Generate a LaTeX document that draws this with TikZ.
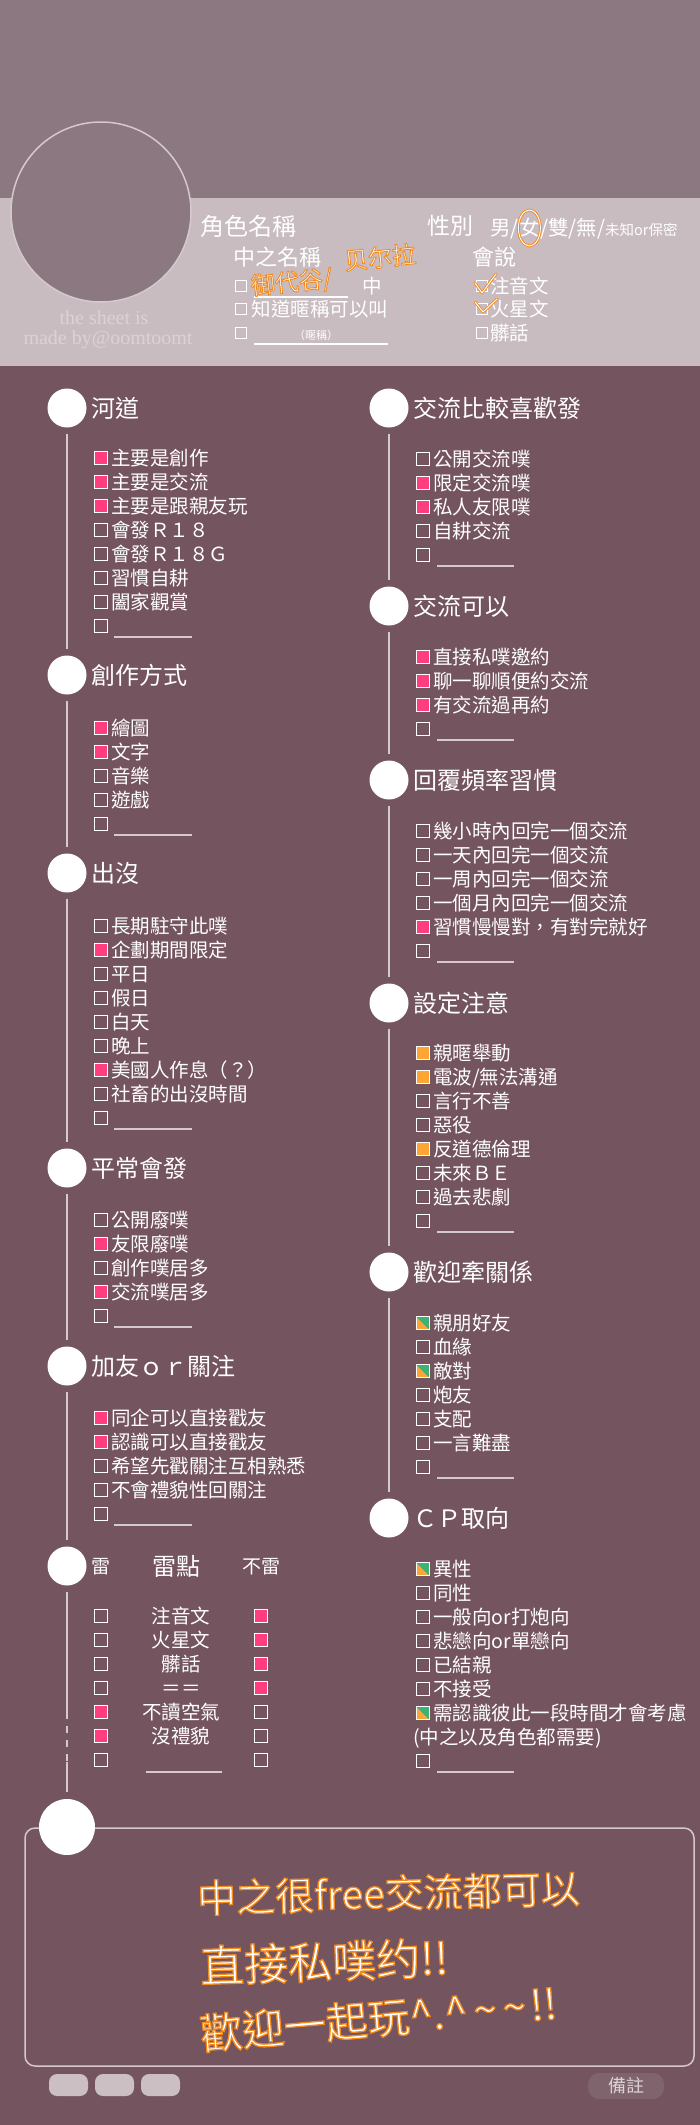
\documentclass[tikz,border=0pt]{standalone}
\usepackage{fontspec}
\usepackage{xcolor}
\usepackage{tikz}
\usetikzlibrary{positioning}
\setmainfont{Noto Sans CJK TC}
\newfontfamily\signfont{Liberation Serif}
\newcommand{\glow}[2]{\special{pdf:literal direct 2 Tr #1 w 0.949 0.541 0.118 RG}#2\special{pdf:literal direct 0 Tr}}

\definecolor{sky}{HTML}{8C7880}
\definecolor{band}{HTML}{C8BCC0}
\definecolor{bg}{HTML}{73545F}
\definecolor{rim}{HTML}{D4CACD}
\definecolor{hot}{HTML}{FF3D7F}
\definecolor{amber}{HTML}{FFA534}
\definecolor{leaf}{HTML}{3CB373}
\definecolor{ink}{HTML}{F28A1E}
\definecolor{faint}{HTML}{DCD2D5}
\definecolor{tag}{HTML}{7F646E}
\definecolor{pill}{HTML}{CBBFC3}

\tikzset{
	dot/.style={circle, fill=white, minimum size=39pt, inner sep=0pt},
	head/.style={text=white, inner sep=0pt, font=\fontsize{24}{28}\selectfont, text height=21pt, text depth=3pt},
	opt/.style={text=white, inner sep=0pt, font=\fontsize{19.5}{23}\selectfont, text height=17pt, text depth=2.5pt},
	lbl/.style={text=white, inner sep=0pt, anchor=west},
	cb/.style={draw=white, line width=1.4pt, fill=bg, minimum size=12.6pt, inner sep=0pt},
	cbp/.style={cb, fill=hot},
	cbo/.style={cb, fill=amber},
	cbm/.style={cb, path picture={
		\fill[amber] (path picture bounding box.north west) -- (path picture bounding box.south west)
			-- (path picture bounding box.south east) -- cycle;
		\fill[leaf] (path picture bounding box.north west) -- (path picture bounding box.north east)
			-- (path picture bounding box.south east) -- cycle;}},
	cbt/.style={cb, fill=band, line width=1.3pt, minimum size=11.5pt},
	rail/.style={draw=rim, line width=1.5pt},
	pen/.style={draw=ink, line width=0.9pt, double=white, double distance=0.9pt, line cap=round, line join=round},
	hand/.style={text=white, inner sep=0pt, anchor=west, font=\fontsize{39}{45}\selectfont},
	sign/.style={text=faint, inner sep=0pt, font=\signfont\fontsize{20}{22}\selectfont},
	chip/.style={fill=pill, rounded corners=8pt, minimum width=39pt, minimum height=22pt, inner sep=0pt},
	frame/.style={draw=rim, line width=1.5pt, rounded corners=10pt, minimum width=669pt, minimum height=238pt}
}

\begin{document}
\begin{tikzpicture}[x=1pt, y=-1pt]
	\useasboundingbox (0,0) rectangle (700,2125);
	
	%% Fundo
	\fill[bg] (0,0) rectangle (700,2125);
	\fill[sky] (0,0) rectangle (700,198);
	\fill[band] (0,198) rectangle (700,366);
	
	%% Avatar
	\node[circle, fill=sky, draw=rim, line width=1.5pt, minimum size=180pt, inner sep=0pt] (ava) at (101,212) {};
	\node[sign] (sig1) at (104,318) {the sheet is};
	\node[sign] (sig2) at (108,340) {made by@oomtoomt};
	
	%% Nome e sexo
	\node[lbl, font=\fontsize{24}{28}\selectfont, text height=21pt, text depth=3pt] (name) at (200,226) {角色名稱};
	\node[lbl, font=\fontsize{23}{27}\selectfont, text height=20pt, text depth=3pt] (sex) at (427,226) {性別};
	\node[lbl, font=\fontsize{20.5}{24}\selectfont, text height=18pt, text depth=2.5pt] (g1) at (490,228) {男/};
	\node[lbl, font=\fontsize{20.5}{24}\selectfont, text height=18pt, text depth=2.5pt, right=0pt of g1] (g2) {女};
	\node[lbl, font=\fontsize{20.5}{24}\selectfont, text height=18pt, text depth=2.5pt, right=0pt of g2] (g3)
		{/雙/無/{\fontsize{14.5}{16}\selectfont 未知or保密}};
	\draw[pen] (g2.center) ellipse [x radius=11, y radius=18];
	
	%% Nome do jogador
	\node[lbl, font=\fontsize{22}{26}\selectfont, text height=19pt, text depth=2.6pt] (nm) at (233,257) {中之名稱};
	\node[cbt] (n1) at (241,286) {};
	\draw[rail, draw=white] ([xshift=6.5pt,yshift=-4.5pt]n1.south east) -- ++(94,0);
	\node[opt, anchor=west] (n1t) at (362,286) {中};
	\node[cbt] (n2) at (241,309) {};
	\node[opt, right=4pt of n2] (n2t) {知道暱稱可以叫};
	\node[cbt] (n3) at (241,333) {};
	\draw[rail, draw=white] ([xshift=6.5pt,yshift=-4.5pt]n3.south east) -- ++(134,0);
	\node[text=white, inner sep=0pt, font=\fontsize{11}{13}\selectfont] (n3t) at (316,335) {（暱稱）};
	\node[hand, font=\fontsize{24}{28}\selectfont, rotate=6] (nick1) at (251,287) {\glow{0.9}{御代谷/}};
	\node[hand, font=\fontsize{24}{28}\selectfont, rotate=6] (nick2) at (344,261) {\glow{0.9}{贝尔拉}};
	
	%% Idiomas
	\node[lbl, font=\fontsize{22}{26}\selectfont, text height=19pt, text depth=2.6pt] (lang) at (472,257) {會說};
	\node[cbt] (l1) at (482,286) {};
	\node[opt, right=1.5pt of l1] (l1t) {注音文};
	\node[cbt] (l2) at (482,309) {};
	\node[opt, right=1.5pt of l2] (l2t) {火星文};
	\node[cbt] (l3) at (482,333) {};
	\node[opt, right=1.5pt of l3] (l3t) {髒話};
	\draw[pen] (475,283) -- (482,293) -- (496,274);
	\draw[pen] (475,302) -- (483,312) -- (497,299);
	
	%% 河道
	\node[dot] (h1) at (67,408) {};
	\node[head, right=5pt of h1] (h1t) {河道};
	\node[cbp] (a1) at (101,458) {}; \node[opt, right=3pt of a1] (a1t) {主要是創作};
	\node[cbp] (a2) at (101,482) {}; \node[opt, right=3pt of a2] (a2t) {主要是交流};
	\node[cbp] (a3) at (101,506) {}; \node[opt, right=3pt of a3] (a3t) {主要是跟親友玩};
	\node[cb] (a4) at (101,530) {}; \node[opt, right=3pt of a4] (a4t) {會發Ｒ１８};
	\node[cb] (a5) at (101,554) {}; \node[opt, right=3pt of a5] (a5t) {會發Ｒ１８Ｇ};
	\node[cb] (a6) at (101,578) {}; \node[opt, right=3pt of a6] (a6t) {習慣自耕};
	\node[cb] (a7) at (101,602) {}; \node[opt, right=3pt of a7] (a7t) {闔家觀賞};
	\node[cb] (a8) at (101,626) {};
	\draw[rail] ([xshift=6pt,yshift=-4pt]a8.south east) -- ++(78,0);
	
	%% 創作方式
	\node[dot] (h2) at (67,675) {};
	\node[head, right=5pt of h2] (h2t) {創作方式};
	\node[cbp] (b1) at (101,728) {}; \node[opt, right=3pt of b1] (b1t) {繪圖};
	\node[cbp] (b2) at (101,752) {}; \node[opt, right=3pt of b2] (b2t) {文字};
	\node[cb] (b3) at (101,776) {}; \node[opt, right=3pt of b3] (b3t) {音樂};
	\node[cb] (b4) at (101,800) {}; \node[opt, right=3pt of b4] (b4t) {遊戲};
	\node[cb] (b5) at (101,824) {};
	\draw[rail] ([xshift=6pt,yshift=-4pt]b5.south east) -- ++(78,0);
	
	%% 出沒
	\node[dot] (h3) at (67,873) {};
	\node[head, right=5pt of h3] (h3t) {出沒};
	\node[cb] (c1) at (101,926) {}; \node[opt, right=3pt of c1] (c1t) {長期駐守此噗};
	\node[cbp] (c2) at (101,950) {}; \node[opt, right=3pt of c2] (c2t) {企劃期間限定};
	\node[cb] (c3) at (101,974) {}; \node[opt, right=3pt of c3] (c3t) {平日};
	\node[cb] (c4) at (101,998) {}; \node[opt, right=3pt of c4] (c4t) {假日};
	\node[cb] (c5) at (101,1022) {}; \node[opt, right=3pt of c5] (c5t) {白天};
	\node[cb] (c6) at (101,1046) {}; \node[opt, right=3pt of c6] (c6t) {晚上};
	\node[cbp] (c7) at (101,1070) {}; \node[opt, right=3pt of c7] (c7t) {美國人作息（？）};
	\node[cb] (c8) at (101,1094) {}; \node[opt, right=3pt of c8] (c8t) {社畜的出沒時間};
	\node[cb] (c9) at (101,1118) {};
	\draw[rail] ([xshift=6pt,yshift=-4pt]c9.south east) -- ++(78,0);
	
	%% 平常會發
	\node[dot] (h4) at (67,1168) {};
	\node[head, right=5pt of h4] (h4t) {平常會發};
	\node[cb] (d1) at (101,1220) {}; \node[opt, right=3pt of d1] (d1t) {公開廢噗};
	\node[cbp] (d2) at (101,1244) {}; \node[opt, right=3pt of d2] (d2t) {友限廢噗};
	\node[cb] (d3) at (101,1268) {}; \node[opt, right=3pt of d3] (d3t) {創作噗居多};
	\node[cbp] (d4) at (101,1292) {}; \node[opt, right=3pt of d4] (d4t) {交流噗居多};
	\node[cb] (d5) at (101,1316) {};
	\draw[rail] ([xshift=6pt,yshift=-4pt]d5.south east) -- ++(78,0);
	
	%% 加友or關注
	\node[dot] (h5) at (67,1366) {};
	\node[head, right=5pt of h5] (h5t) {加友ｏｒ關注};
	\node[cbp] (e1) at (101,1418) {}; \node[opt, right=3pt of e1] (e1t) {同企可以直接戳友};
	\node[cbp] (e2) at (101,1442) {}; \node[opt, right=3pt of e2] (e2t) {認識可以直接戳友};
	\node[cb] (e3) at (101,1466) {}; \node[opt, right=3pt of e3] (e3t) {希望先戳關注互相熟悉};
	\node[cb] (e4) at (101,1490) {}; \node[opt, right=3pt of e4] (e4t) {不會禮貌性回關注};
	\node[cb] (e5) at (101,1514) {};
	\draw[rail] ([xshift=6pt,yshift=-4pt]e5.south east) -- ++(78,0);
	
	%% 雷點
	\node[dot] (h6) at (67,1566) {};
	\node[opt, font=\fontsize{19}{22}\selectfont, right=5pt of h6] (h6t) {雷};
	\node[head] (h6m) at (176,1566) {雷點};
	\node[opt, font=\fontsize{19}{22}\selectfont] (h6r) at (261,1566) {不雷};
	\node[cb] (f1) at (101,1616) {}; \node[opt] (f1t) at (181,1616) {注音文}; \node[cbp] (f1r) at (261,1616) {};
	\node[cb] (f2) at (101,1640) {}; \node[opt] (f2t) at (181,1640) {火星文}; \node[cbp] (f2r) at (261,1640) {};
	\node[cb] (f3) at (101,1664) {}; \node[opt] (f3t) at (181,1664) {髒話}; \node[cbp] (f3r) at (261,1664) {};
	\node[cb] (f4) at (101,1688) {}; \node[opt] (f4t) at (181,1688) {＝＝}; \node[cbp] (f4r) at (261,1688) {};
	\node[cbp] (f5) at (101,1712) {}; \node[opt] (f5t) at (181,1712) {不讀空氣}; \node[cb] (f5r) at (261,1712) {};
	\node[cbp] (f6) at (101,1736) {}; \node[opt] (f6t) at (181,1736) {沒禮貌}; \node[cb] (f6r) at (261,1736) {};
	\node[cb] (f7) at (101,1760) {}; \node[cb] (f7r) at (261,1760) {};
	\draw[rail] ([xshift=38pt,yshift=-5pt]f7.south east) -- ++(76,0);
	
	%% Linhas da esquerda
	\draw[rail] ([yshift=-6pt]h1.south) -- ([yshift=6pt]h2.north);
	\draw[rail] ([yshift=-6pt]h2.south) -- ([yshift=6pt]h3.north);
	\draw[rail] ([yshift=-6pt]h3.south) -- ([yshift=6pt]h4.north);
	\draw[rail] ([yshift=-6pt]h4.south) -- ([yshift=6pt]h5.north);
	\draw[rail] ([yshift=-6pt]h5.south) -- ([yshift=6pt]h6.north);
	
	%% 交流比較喜歡發
	\node[dot] (r1) at (389,408) {};
	\node[head, right=5pt of r1] (r1t) {交流比較喜歡發};
	\node[cb] (p1) at (423,459) {}; \node[opt, right=3pt of p1] (p1t) {公開交流噗};
	\node[cbp] (p2) at (423,483) {}; \node[opt, right=3pt of p2] (p2t) {限定交流噗};
	\node[cbp] (p3) at (423,507) {}; \node[opt, right=3pt of p3] (p3t) {私人友限噗};
	\node[cb] (p4) at (423,531) {}; \node[opt, right=3pt of p4] (p4t) {自耕交流};
	\node[cb] (p5) at (423,555) {};
	\draw[rail] ([xshift=7pt,yshift=-4pt]p5.south east) -- ++(77,0);
	
	%% 交流可以
	\node[dot] (r2) at (389,606) {};
	\node[head, right=5pt of r2] (r2t) {交流可以};
	\node[cbp] (q1) at (423,657) {}; \node[opt, right=3pt of q1] (q1t) {直接私噗邀約};
	\node[cbp] (q2) at (423,681) {}; \node[opt, right=3pt of q2] (q2t) {聊一聊順便約交流};
	\node[cbp] (q3) at (423,705) {}; \node[opt, right=3pt of q3] (q3t) {有交流過再約};
	\node[cb] (q4) at (423,729) {};
	\draw[rail] ([xshift=7pt,yshift=-4pt]q4.south east) -- ++(77,0);
	
	%% 回覆頻率習慣
	\node[dot] (r3) at (389,780) {};
	\node[head, right=5pt of r3] (r3t) {回覆頻率習慣};
	\node[cb] (s1) at (423,831) {}; \node[opt, right=3pt of s1] (s1t) {幾小時內回完一個交流};
	\node[cb] (s2) at (423,855) {}; \node[opt, right=3pt of s2] (s2t) {一天內回完一個交流};
	\node[cb] (s3) at (423,879) {}; \node[opt, right=3pt of s3] (s3t) {一周內回完一個交流};
	\node[cb] (s4) at (423,903) {}; \node[opt, right=3pt of s4] (s4t) {一個月內回完一個交流};
	\node[cbp] (s5) at (423,927) {}; \node[opt, right=3pt of s5] (s5t) {習慣慢慢對，有對完就好};
	\node[cb] (s6) at (423,951) {};
	\draw[rail] ([xshift=7pt,yshift=-4pt]s6.south east) -- ++(77,0);
	
	%% 設定注意
	\node[dot] (r4) at (389,1003) {};
	\node[head, right=5pt of r4] (r4t) {設定注意};
	\node[cbo] (t1) at (423,1053) {}; \node[opt, right=3pt of t1] (t1t) {親暱舉動};
	\node[cbo] (t2) at (423,1077) {}; \node[opt, right=3pt of t2] (t2t) {電波/無法溝通};
	\node[cb] (t3) at (423,1101) {}; \node[opt, right=3pt of t3] (t3t) {言行不善};
	\node[cb] (t4) at (423,1125) {}; \node[opt, right=3pt of t4] (t4t) {惡役};
	\node[cbo] (t5) at (423,1149) {}; \node[opt, right=3pt of t5] (t5t) {反道德倫理};
	\node[cb] (t6) at (423,1173) {}; \node[opt, right=3pt of t6] (t6t) {未來ＢＥ};
	\node[cb] (t7) at (423,1197) {}; \node[opt, right=3pt of t7] (t7t) {過去悲劇};
	\node[cb] (t8) at (423,1221) {};
	\draw[rail] ([xshift=7pt,yshift=-4pt]t8.south east) -- ++(77,0);
	
	%% 歡迎牽關係
	\node[dot] (r5) at (389,1272) {};
	\node[head, right=5pt of r5] (r5t) {歡迎牽關係};
	\node[cbm] (u1) at (423,1323) {}; \node[opt, right=3pt of u1] (u1t) {親朋好友};
	\node[cb] (u2) at (423,1347) {}; \node[opt, right=3pt of u2] (u2t) {血緣};
	\node[cbm] (u3) at (423,1371) {}; \node[opt, right=3pt of u3] (u3t) {敵對};
	\node[cb] (u4) at (423,1395) {}; \node[opt, right=3pt of u4] (u4t) {炮友};
	\node[cb] (u5) at (423,1419) {}; \node[opt, right=3pt of u5] (u5t) {支配};
	\node[cb] (u6) at (423,1443) {}; \node[opt, right=3pt of u6] (u6t) {一言難盡};
	\node[cb] (u7) at (423,1467) {};
	\draw[rail] ([xshift=7pt,yshift=-4pt]u7.south east) -- ++(77,0);
	
	%% CP取向
	\node[dot] (r6) at (389,1518) {};
	\node[head, right=5pt of r6] (r6t) {ＣＰ取向};
	\node[cbm] (k1) at (423,1569) {}; \node[opt, right=3pt of k1] (k1t) {異性};
	\node[cb] (k2) at (423,1593) {}; \node[opt, right=3pt of k2] (k2t) {同性};
	\node[cb] (k3) at (423,1617) {}; \node[opt, right=3pt of k3] (k3t) {一般向or打炮向};
	\node[cb] (k4) at (423,1641) {}; \node[opt, right=3pt of k4] (k4t) {悲戀向or單戀向};
	\node[cb] (k5) at (423,1665) {}; \node[opt, right=3pt of k5] (k5t) {已結親};
	\node[cb] (k6) at (423,1689) {}; \node[opt, right=3pt of k6] (k6t) {不接受};
	\node[cbm] (k7) at (423,1713) {}; \node[opt, right=3pt of k7] (k7t) {需認識彼此一段時間才會考慮};
	\node[opt, anchor=west] (k8t) at (413,1737) {(中之以及角色都需要)};
	\node[cb] (k9) at (423,1761) {};
	\draw[rail] ([xshift=7pt,yshift=-4pt]k9.south east) -- ++(77,0);
	
	%% Linhas da direita
	\draw[rail] ([yshift=-6pt]r1.south) -- ([yshift=6pt]r2.north);
	\draw[rail] ([yshift=-6pt]r2.south) -- ([yshift=6pt]r3.north);
	\draw[rail] ([yshift=-6pt]r3.south) -- ([yshift=6pt]r4.north);
	\draw[rail] ([yshift=-6pt]r4.south) -- ([yshift=6pt]r5.north);
	\draw[rail] ([yshift=-6pt]r5.south) -- ([yshift=6pt]r6.north);
	
	%% Observações
	\node[frame] (note) at (359.5,1947) {};
	\node[dot, minimum size=56pt] (h7) at (67,1827) {};
	\coordinate (cut1) at (67,1712);
	\coordinate (cut2) at (67,1762);
	\draw[rail] ([yshift=-6pt]h6.south) -- (cut1);
	\draw[rail, dash pattern=on 7pt off 7pt] (cut1) -- (cut2);
	\draw[rail] (cut2) -- ([yshift=7pt]h7.north);
	
	\node[hand, rotate=1.5] (say1) at (197,1898) {\glow{1.3}{中之很free交流都可以}};
	\node[hand, rotate=2, font=\fontsize{44}{50}\selectfont] (say2) at (200,1966) {\glow{1.3}{直接私噗约!!}};
	\node[hand, rotate=5, font=\fontsize{42}{48}\selectfont] (say3) at (200,2034)
		{\glow{1.3}{歡迎一起玩\textasciicircum.\textasciicircum\hspace{6pt}\textasciitilde\hspace{6pt}\textasciitilde\hspace{4pt}!!}};
	
	\node[chip] (pill1) at (68.5,2085) {};
	\node[chip] (pill2) at (114.5,2085) {};
	\node[chip] (pill3) at (160.5,2085) {};
	\node[chip, fill=tag, minimum width=76pt, minimum height=26pt, rounded corners=11pt,
		text=faint, font=\fontsize{18}{20}\selectfont] (memo) at (626,2086) {備註};
\end{tikzpicture}
\end{document}
